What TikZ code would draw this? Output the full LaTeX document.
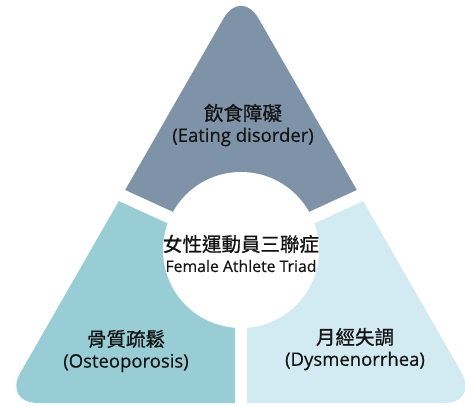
\documentclass[tikz,border=0pt]{standalone}
\usepackage{fontspec}
\setmainfont{Open Sans}[FakeBold=0.5]
\newfontfamily\cjk{Noto Sans CJK TC}[FakeBold=0.9]
\usetikzlibrary{calc}

\definecolor{slate}{HTML}{7E92A8}
\definecolor{teal}{HTML}{98CDD6}
\definecolor{pale}{HTML}{D2EAF1}
\definecolor{ink}{HTML}{141414}

\tikzset{
    piece/.style={rounded corners=35pt},
    gapline/.style={white, line width=12.5pt},
    cjklabel/.style={font=\cjk\fontsize{19.5}{21}\selectfont, text=ink, inner sep=0pt},
    enlabel/.style={font=\fontsize{18.5}{20}\selectfont, text=ink, inner sep=0pt},
}

\begin{document}
\begin{tikzpicture}[x=1pt, y=-1pt]
    \useasboundingbox (0,0) rectangle (465,405);

    \coordinate (apex) at (241,-12);
    \coordinate (lft) at (3,403);
    \coordinate (rgt) at (479,403);
    \coordinate (ctr) at (241,250);
    \coordinate (midL) at ($(apex)!0.5!(lft)$);
    \coordinate (midR) at ($(apex)!0.5!(rgt)$);
    \coordinate (midB) at ($(lft)!0.5!(rgt)$);

    % top piece
    \begin{scope}
        \clip (ctr) -- ($(ctr)!3!(midL)$) -- ($(ctr)!3!(apex)$) -- ($(ctr)!3!(midR)$) -- cycle;
        \fill[slate, piece] (apex) -- (rgt) -- (lft) -- cycle;
    \end{scope}

    % bottom left piece
    \begin{scope}
        \clip (ctr) -- ($(ctr)!3!(midL)$) -- ($(ctr)!3!(lft)$) -- ($(ctr)!3!(midB)$) -- cycle;
        \fill[teal, piece] (apex) -- (rgt) -- (lft) -- cycle;
    \end{scope}

    % bottom right piece
    \begin{scope}
        \clip (ctr) -- ($(ctr)!3!(midR)$) -- ($(ctr)!3!(rgt)$) -- ($(ctr)!3!(midB)$) -- cycle;
        \fill[pale, piece] (apex) -- (rgt) -- (lft) -- cycle;
    \end{scope}

    % gaps and centre
    \draw[gapline] (ctr) -- ($(ctr)!1.3!(midL)$);
    \draw[gapline] (ctr) -- ($(ctr)!1.3!(midR)$);
    \draw[gapline] (ctr) -- ($(ctr)!1.3!(midB)$);
    \fill[white] (ctr) circle[radius=78];

    \node[cjklabel] (eatzh) at (243,113) {飲食障礙};
    \node[enlabel] (eaten) at (243,137) {(Eating disorder)};

    \node[cjklabel] (triadzh) at (241,244) {女性運動員三聯症};
    \node[enlabel, font=\fontsize{15.8}{18}\selectfont] (triaden) at (241,266) {Female Athlete Triad};

    \node[cjklabel] (bonezh) at (126,339) {骨質疏鬆};
    \node[enlabel] (boneen) at (126,363) {(Osteoporosis)};

    \node[cjklabel] (menszh) at (355,337) {月經失調};
    \node[enlabel] (mensen) at (355,361) {(Dysmenorrhea)};
\end{tikzpicture}
\end{document}
